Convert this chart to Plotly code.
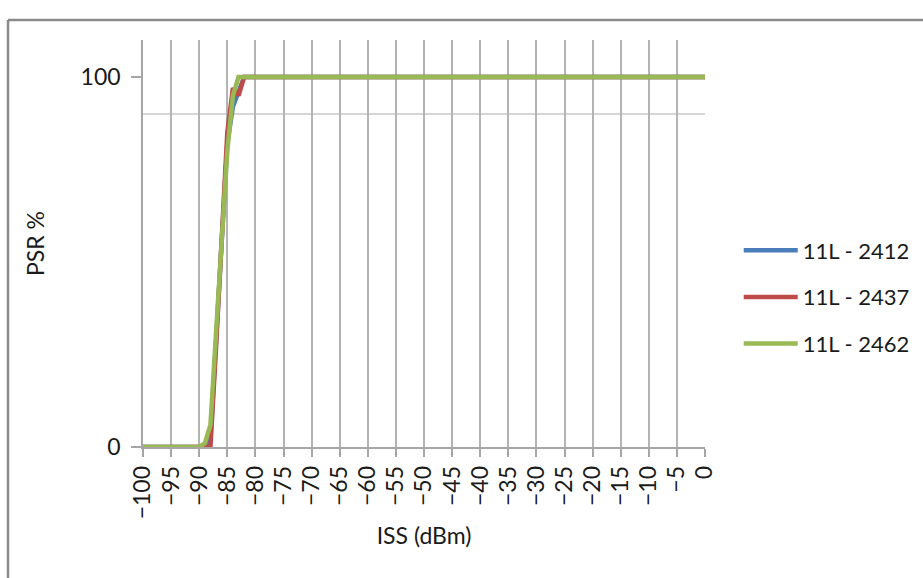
import plotly.graph_objects as go

# Input signal strength (dBm) at which packet success rate was measured
iss_dbm = [-100, -95, -90, -89, -88, -87, -86, -85, -84, -83, -82, -80,
           -75, -70, -65, -60, -55, -50, -45, -40, -35, -30, -25, -20,
           -15, -10, -5, 0]

# Packet success rate (%) per channel
psr_2412 = [0, 0, 0, 0, 2, 28, 55, 82, 92, 96, 100, 100,
            100, 100, 100, 100, 100, 100, 100, 100, 100, 100, 100, 100,
            100, 100, 100, 100]
psr_2437 = [0, 0, 0, 0, 0, 27, 56, 85, 97, 95, 100, 100,
            100, 100, 100, 100, 100, 100, 100, 100, 100, 100, 100, 100,
            100, 100, 100, 100]
psr_2462 = [0, 0, 0, 1, 6, 31, 56, 80, 95, 100, 100, 100,
            100, 100, 100, 100, 100, 100, 100, 100, 100, 100, 100, 100,
            100, 100, 100, 100]

series_names = ["11L - 2412", "11L - 2437", "11L - 2462"]
series_colors = ["#4a7ebb", "#be4b48", "#98b954"]
series_values = [psr_2412, psr_2437, psr_2462]

x_ticks = list(range(-100, 1, 5))
y_ticks = [0, 100]
y_gridline = 90

FONT = "Lato, 'Open Sans', sans-serif"

fig = go.Figure()
for name, color, vals in zip(series_names, series_colors, series_values):
    fig.add_trace(go.Scatter(
        x=iss_dbm, y=vals, name=name, mode="lines", legendgroup=name,
        line=dict(color=color, width=4.5),
    ))

fig.update_layout(
    width=923, height=578,
    margin=dict(l=143, r=218, t=40, b=131, autoexpand=False),
    paper_bgcolor="white", plot_bgcolor="white",
    font=dict(family=FONT, size=23, color="#1a1a1a"),
    showlegend=True,
    legend=dict(
        x=1.06, y=0.3686, xanchor="left", yanchor="middle",
        font=dict(size=22, color="#1a1a1a"),
        tracegroupgap=15, itemwidth=54,
        bgcolor="rgba(0,0,0,0)",
    ),
    xaxis=dict(
        range=[-100, 0], tickvals=x_ticks, tickangle=-90,
        showgrid=True, gridcolor="#b4b4b4", gridwidth=1.5,
        showline=True, linecolor="#a6a6a6", linewidth=1.5,
        ticks="outside", ticklen=8, tickcolor="#a6a6a6", tickwidth=1.5,
        zeroline=False,
        title=dict(text="ISS (dBm)", standoff=10, font=dict(size=23)),
        tickfont=dict(size=23),
    ),
    yaxis=dict(
        range=[0, 110], tickvals=y_ticks,
        showgrid=False,
        showline=True, linecolor="#a6a6a6", linewidth=1.5,
        ticks="outside", ticklen=10, tickcolor="#a6a6a6", tickwidth=1.5,
        ticklabelstandoff=6,
        zeroline=False,
        title=dict(text="PSR %", standoff=30, font=dict(size=23)),
        tickfont=dict(size=23),
    ),
)

# Single horizontal gridline
fig.add_shape(type="line", xref="x", yref="y", x0=-100, x1=0,
              y0=y_gridline, y1=y_gridline,
              line=dict(color="#c8c8c8", width=1.5), layer="below")

# Chart area frame (top and left edges)
fig.add_shape(type="line", xref="paper", yref="paper",
              x0=-0.2402, x1=1.5, y0=1.049, y1=1.049,
              line=dict(color="#8a8a8a", width=2.5))
fig.add_shape(type="line", xref="paper", yref="paper",
              x0=-0.2402, x1=-0.2402, y0=-0.5, y1=1.049,
              line=dict(color="#8a8a8a", width=2.5))

fig.write_html("out.html")
